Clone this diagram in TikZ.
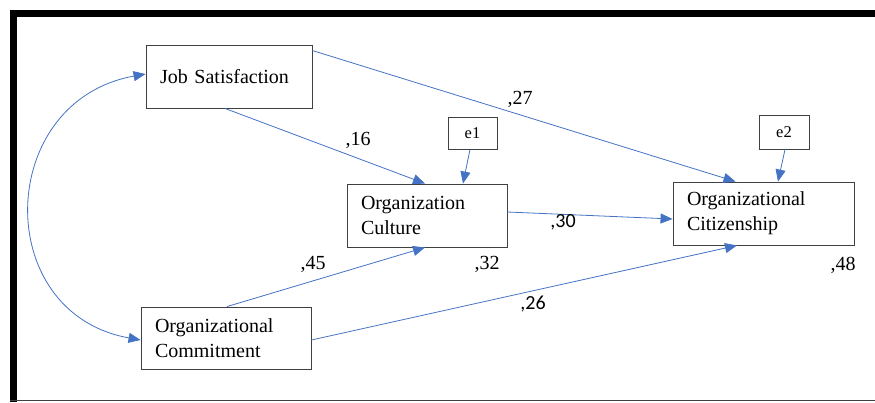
\documentclass[tikz,border=0pt]{standalone}
\usepackage{fontspec}
\setmainfont{Liberation Serif}
\newfontfamily\calibrisub{Carlito}
\usetikzlibrary{arrows.meta}
\definecolor{pathblue}{RGB}{68,114,196}
\definecolor{boxgray}{RGB}{64,64,64}
\begin{document}
\begin{tikzpicture}[x=1pt, y=-1pt,
    var/.style={draw=boxgray, line width=0.9pt, inner xsep=14pt, inner ysep=0pt,
        align=left, font=\fontsize{20}{25}\selectfont},
    err/.style={draw=boxgray, line width=0.9pt, inner sep=0pt,
        font=\fontsize{16.5}{20}\selectfont},
    path/.style={-{Triangle[length=12pt, width=10pt]}, draw=pathblue, line width=0.8pt},
    coef/.style={font=\fontsize{20}{24}\selectfont},
    coefsans/.style={font=\calibrisub\fontsize{20}{24}\selectfont}]
    \useasboundingbox (0,0) rectangle (875,402);

    % Frame
    \draw[line width=7pt] (13.5,402) -- (13.5,13.5) -- (875,13.5);
    \draw[line width=1.5pt, black!75] (10,400.5) -- (875,400.5);

    % Variables
    \node[var, text width=138pt, minimum height=63pt] (job) at (229,76.5) {Job Satisfaction};
    \node[var, text width=142pt, minimum height=62pt] (commit) at (226,338) {Organizational\\Commitment};
    \node[var, text width=132pt, minimum height=63pt] (culture) at (427,215.5) {Organization\\Culture};
    \node[var, text width=153pt, minimum height=63pt] (citizen) at (763.5,213.5) {Organizational\\Citizenship};

    % Error terms
    \node[err, minimum width=49pt, minimum height=32pt] (e1) at (472.5,133) {e1};
    \node[err, minimum width=50pt, minimum height=34pt] (e2) at (784,132) {e2};

    % Covariance
    \draw[{Triangle[length=12pt, width=10pt]}-{Triangle[length=12pt, width=10pt]}, draw=pathblue, line width=0.8pt]
        ([yshift=2.5pt]job.west) .. controls +(-150,27) and +(-150,-27) .. ([yshift=-2pt]commit.west);

    % Paths
    \draw[path] ([xshift=-4pt]job.south) -- ([xshift=-2pt]culture.north);
    \draw[path] ([yshift=-6pt]job.north east) -- ([xshift=-28pt]citizen.north);
    \draw[path] ([xshift=1pt]commit.north) -- ([xshift=-2pt]culture.south);
    \draw[path] ([yshift=-2pt]commit.east) -- ([xshift=-26.5pt]citizen.south);
    \draw[path] ([yshift=3.5pt]culture.east) -- ([yshift=-5.5pt]citizen.west);
    \draw[path] ([xshift=-2.5pt]e1.south) -- ([xshift=36pt]culture.north);
    \draw[path] ([xshift=1pt]e2.south) -- ([xshift=14.5pt]citizen.north);

    % Coefficients
    \node[coef] (c16) at (358,140) {,16};
    \node[coef] (c27) at (520,99) {,27};
    \node[coef] (c45) at (313,264) {,45};
    \node[coef] (c32) at (487,264) {,32};
    \node[coefsans] (c30) at (563,222) {,30};
    \node[coefsans] (c26) at (533,304) {,26};
    \node[coef] (c48) at (843,265) {,48};
\end{tikzpicture}
\end{document}
